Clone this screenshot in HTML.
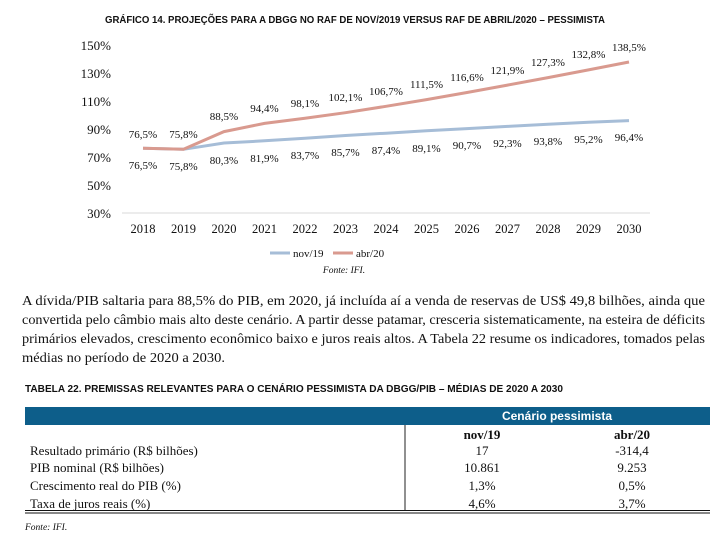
<!DOCTYPE html>
<html><head><meta charset="utf-8"><style>
html,body{margin:0;padding:0;background:#fff;}
svg{display:block;}
text{font-family:"Liberation Serif",serif;fill:#111;}
.s{font-family:"Liberation Sans",sans-serif;}
</style></head><body>
<svg width="710" height="536" viewBox="0 0 710 536" xmlns="http://www.w3.org/2000/svg">
<text class="s" x="355" y="23" text-anchor="middle" font-size="10.5" font-weight="bold" textLength="500" lengthAdjust="spacingAndGlyphs">GRÁFICO 14. PROJEÇÕES PARA A DBGG NO RAF DE NOV/2019 VERSUS RAF DE ABRIL/2020 – PESSIMISTA</text>
<g font-size="13" text-anchor="end">
<text x="111" y="50">150%</text><text x="111" y="78">130%</text><text x="111" y="106">110%</text>
<text x="111" y="134">90%</text><text x="111" y="162">70%</text><text x="111" y="190">50%</text><text x="111" y="218">30%</text>
</g>
<line x1="122" y1="213" x2="650" y2="213" stroke="#d9d9d9" stroke-width="1"/>
<g font-size="12.5" text-anchor="middle">
<text x="143" y="233">2018</text><text x="183.5" y="233">2019</text><text x="224" y="233">2020</text><text x="264.5" y="233">2021</text><text x="305" y="233">2022</text><text x="345.5" y="233">2023</text><text x="386" y="233">2024</text><text x="426.5" y="233">2025</text><text x="467" y="233">2026</text><text x="507.5" y="233">2027</text><text x="548" y="233">2028</text><text x="588.5" y="233">2029</text><text x="629" y="233">2030</text>
</g>
<polyline fill="none" stroke="#a6bdd7" stroke-width="3" points="143,148.3 183.5,149.3 224,143 264.5,140.8 305,138.3 345.5,135.5 386,133.2 426.5,130.8 467,128.6 507.5,126.4 548,124.2 588.5,122.3 629,120.6"/>
<polyline fill="none" stroke="#d99a8f" stroke-width="3" points="143,148.3 183.5,149.3 224,131.6 264.5,123.4 305,118.3 345.5,112.7 386,106.3 426.5,99.6 467,92.5 507.5,85.1 548,77.6 588.5,69.9 629,62"/>
<g font-size="11" text-anchor="middle">
<text x="143" y="138">76,5%</text><text x="183.5" y="138">75,8%</text><text x="224" y="120">88,5%</text><text x="264.5" y="112">94,4%</text><text x="305" y="107">98,1%</text><text x="345.5" y="101">102,1%</text><text x="386" y="95">106,7%</text><text x="426.5" y="88">111,5%</text><text x="467" y="81">116,6%</text><text x="507.5" y="74">121,9%</text><text x="548" y="66">127,3%</text><text x="588.5" y="58">132,8%</text><text x="629" y="51">138,5%</text>
<text x="143" y="169">76,5%</text><text x="183.5" y="170">75,8%</text><text x="224" y="164">80,3%</text><text x="264.5" y="162">81,9%</text><text x="305" y="159">83,7%</text><text x="345.5" y="156">85,7%</text><text x="386" y="154">87,4%</text><text x="426.5" y="152">89,1%</text><text x="467" y="149">90,7%</text><text x="507.5" y="147">92,3%</text><text x="548" y="145">93,8%</text><text x="588.5" y="143">95,2%</text><text x="629" y="141">96,4%</text>
</g>
<line x1="270" y1="253" x2="290" y2="253" stroke="#a6bdd7" stroke-width="3"/>
<text x="293" y="257" font-size="11">nov/19</text>
<line x1="333" y1="253" x2="353" y2="253" stroke="#d99a8f" stroke-width="3"/>
<text x="356" y="257" font-size="11">abr/20</text>
<text x="344" y="273" font-size="9.5" font-style="italic" text-anchor="middle">Fonte: IFI.</text>
<g font-size="14">
<text x="22" y="305" textLength="683" lengthAdjust="spacingAndGlyphs">A dívida/PIB saltaria para 88,5% do PIB, em 2020, já incluída aí a venda de reservas de US$ 49,8 bilhões, ainda que</text>
<text x="22" y="324" textLength="683" lengthAdjust="spacingAndGlyphs">convertida pelo câmbio mais alto deste cenário. A partir desse patamar, cresceria sistematicamente, na esteira de déficits</text>
<text x="22" y="343" textLength="683" lengthAdjust="spacingAndGlyphs">primários elevados, crescimento econômico baixo e juros reais altos. A Tabela 22 resume os indicadores, tomados pelas</text>
<text x="22" y="362" textLength="203" lengthAdjust="spacingAndGlyphs">médias no período de 2020 a 2030.</text>
</g>
<text class="s" x="25" y="392" font-size="10" font-weight="bold" textLength="538" lengthAdjust="spacingAndGlyphs">TABELA 22. PREMISSAS RELEVANTES PARA O CENÁRIO PESSIMISTA DA DBGG/PIB – MÉDIAS DE 2020 A 2030</text>
<rect x="25" y="407" width="685" height="18" fill="#0d5e8a"/>
<text class="s" x="557" y="420" font-size="12" text-anchor="middle" style="fill:#fff" font-weight="bold">Cenário pessimista</text>
<line x1="405" y1="425" x2="405" y2="510" stroke="#222" stroke-width="1"/>
<g font-size="13">
<text x="482" y="439" text-anchor="middle" font-weight="bold">nov/19</text>
<text x="632" y="439" text-anchor="middle" font-weight="bold">abr/20</text>
<text x="30" y="455">Resultado primário (R$ bilhões)</text><text x="482" y="455" text-anchor="middle">17</text><text x="632" y="455" text-anchor="middle">-314,4</text>
<text x="30" y="472">PIB nominal (R$ bilhões)</text><text x="482" y="472" text-anchor="middle">10.861</text><text x="632" y="472" text-anchor="middle">9.253</text>
<text x="30" y="490">Crescimento real do PIB (%)</text><text x="482" y="490" text-anchor="middle">1,3%</text><text x="632" y="490" text-anchor="middle">0,5%</text>
<text x="30" y="508">Taxa de juros reais (%)</text><text x="482" y="508" text-anchor="middle">4,6%</text><text x="632" y="508" text-anchor="middle">3,7%</text>
</g>
<line x1="25" y1="510.5" x2="710" y2="510.5" stroke="#111" stroke-width="1"/>
<line x1="25" y1="513" x2="710" y2="513" stroke="#111" stroke-width="1"/>
<text x="25" y="530" font-size="9.5" font-style="italic">Fonte: IFI.</text>
</svg>
</body></html>
